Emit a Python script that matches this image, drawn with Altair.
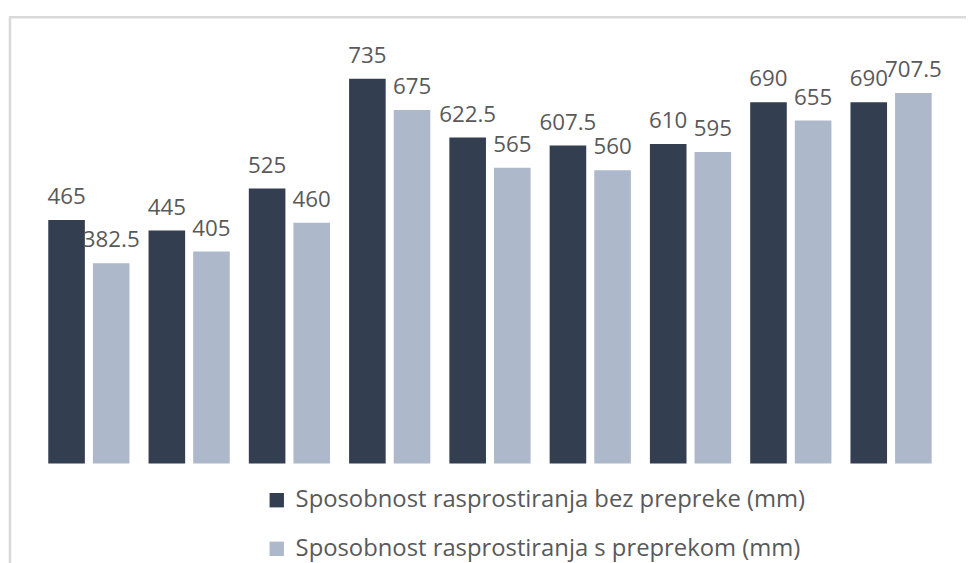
import altair as alt
import pandas as pd

groups = [1, 2, 3, 4, 5, 6, 7, 8, 9]
series_names = [
    "Sposobnost rasprostiranja bez prepreke (mm)",
    "Sposobnost rasprostiranja s preprekom (mm)",
]
bez_prepreke = [465, 445, 525, 735, 622.5, 607.5, 610, 690, 690]
s_preprekom = [382.5, 405, 460, 675, 565, 560, 595, 655, 707.5]
colors = ["#333f50", "#adb9ca"]

FONT = "Open Sans"
TXT = "#595959"


def fmt(v):
    return f"{v:g}"


rows = []
for g, a, b in zip(groups, bez_prepreke, s_preprekom):
    rows.append({"g": g, "serija": series_names[0], "v": a, "lbl": fmt(a)})
    rows.append({"g": g, "serija": series_names[1], "v": b, "lbl": fmt(b)})
df = pd.DataFrame(rows)

x = alt.X("g:N", axis=None, scale=alt.Scale(paddingInner=0.19, paddingOuter=0.095))
xo = alt.XOffset("serija:N", sort=series_names,
                 scale=alt.Scale(domain=series_names, paddingInner=0.18, paddingOuter=0))
y = alt.Y("v:Q", axis=None, scale=alt.Scale(domain=[0, 852.3], nice=False))

bars = alt.Chart(df).mark_bar().encode(
    x=x, xOffset=xo, y=y,
    color=alt.Color(
        "serija:N", sort=series_names,
        scale=alt.Scale(domain=series_names, range=colors),
        legend=alt.Legend(
            title=None, orient="none", legendX=228, legendY=475,
            direction="vertical", symbolType="square", symbolSize=210,
            symbolStrokeWidth=0, labelFontSize=24, labelFont=FONT,
            labelColor=TXT, labelLimit=0, rowPadding=25, labelOffset=7,
        ),
    ),
)

labels = alt.Chart(df).mark_text(
    baseline="alphabetic", dy=-16, fontSize=22.5, font=FONT, color=TXT
).encode(x=x, xOffset=xo, y=y, text="lbl:N")

frame_df = pd.DataFrame({"k": [0]})
top_line = alt.Chart(frame_df).mark_rule(color="#d9d9d9", strokeWidth=2.5).encode(
    x=alt.value(-30), x2=alt.value(935), y=alt.value(0)
)
left_line = alt.Chart(frame_df).mark_rule(color="#d9d9d9", strokeWidth=2.5).encode(
    x=alt.value(-29), y=alt.value(0), y2=alt.value(560)
)

chart = alt.layer(top_line, left_line, bars, labels).properties(
    width=910, height=450,
    autosize=alt.AutoSizeParams(type="none"),
    padding={"left": 31, "top": 7, "right": 25, "bottom": 98},
).configure_view(stroke=None)

chart.save("out.html", embed_options={"renderer": "svg", "actions": False})
